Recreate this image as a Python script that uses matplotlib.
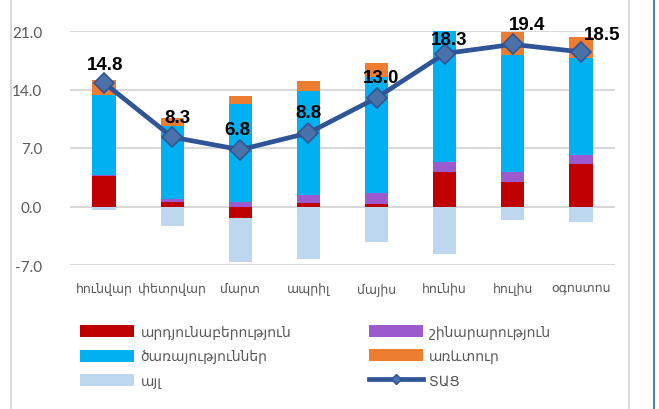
import numpy as np
import matplotlib
matplotlib.use('Agg')
import matplotlib.pyplot as plt
from matplotlib.lines import Line2D

plt.rcParams['font.family'] = ['Lato', 'DejaVu Sans']

# data
months = ['հունվար', 'փետրվար', 'մարտ', 'ապրիլ', 'մայիս', 'հունիս', 'հուլիս', 'օգոստոս']
industry = [3.6, 0.55, -1.4, 0.36, 0.3, 4.07, 2.94, 5.06]
construction = [0.2, 0.4, 0.48, 1.0, 1.3, 1.2, 1.16, 1.16]
services = [9.6, 8.7, 11.8, 12.45, 13.9, 18.0, 14.0, 11.5]
trade = [1.7, 0.9, 1.0, 1.25, 1.7, 0.7, 2.8, 2.6]
other = [-0.4, -2.3, -5.2, -6.3, -4.2, -5.7, -1.6, -1.9]
gdp = [14.8, 8.3, 6.8, 8.8, 13.0, 18.3, 19.4, 18.5]

names = ['արդյունաբերություն', 'շինարարություն', 'ծառայություններ', 'առևտուր', 'այլ']
colors = ['#C00000', '#9B5BCF', '#00B0F0', '#ED7D31', '#BDD7EE']
line_name = 'ՏԱՑ'

# label offsets in pixels (manual placement like the original)
lbl_dx = [1, 5, -3, 0, 5, 4, 14, 21]
lbl_dy = [18, 20, 20, 20, 20, 14, 20, 17]

fig = plt.figure(figsize=(6.59, 4.10), dpi=100)
ax = fig.add_axes([70/659, 144/410, 545/659, 234/410])

x = np.arange(len(months))
pos = np.zeros(len(months))
neg = np.zeros(len(months))
handles = []
for vals, name, c in zip([industry, construction, services, trade, other], names, colors):
    v = np.array(vals)
    bottom = np.where(v >= 0, pos, neg)
    b = ax.bar(x, v, width=0.34, bottom=bottom, color=c, label=name, zorder=2)
    handles.append(b)
    pos = pos + np.where(v >= 0, v, 0)
    neg = neg + np.where(v < 0, v, 0)

ln, = ax.plot(x, gdp, color='#2F5597', lw=3.4, marker='D', markersize=10.5,
              markerfacecolor='#4A72A8', markeredgecolor='#2F5597', markeredgewidth=1.2,
              label=line_name, zorder=3)

for i in range(len(gdp)):
    ax.annotate('%.1f' % gdp[i], (x[i], gdp[i]), xytext=(lbl_dx[i], lbl_dy[i]),
                textcoords='offset pixels', ha='center', va='center',
                fontsize=13.5, fontweight='bold', family='Liberation Sans', color='black',
                zorder=4)

ax.set_ylim(-7, 21)
ax.set_xlim(-0.5, 7.5)
ax.set_yticks([-7, 0, 7, 14, 21])
ax.set_yticklabels(['%.1f' % t for t in [-7, 0, 7, 14, 21]])
ax.set_xticks(x)
ax.set_xticklabels(months)
ax.tick_params(axis='y', length=0, pad=20, labelsize=11, labelcolor='#595959')
ax.tick_params(axis='x', length=0, pad=12, labelsize=9, labelcolor='#595959')
ax.grid(axis='y', color='#D9D9D9', lw=1.5, zorder=0)
ax.set_axisbelow(True)
for s in ax.spines.values():
    s.set_visible(False)

leg_line = Line2D([], [], color='#2F5597', lw=3.4, marker='D', markersize=5,
                  markerfacecolor='#4A72A8', markeredgecolor='#2F5597')
order = [handles[0], handles[2], handles[4], handles[1], handles[3], leg_line]
labels = [names[0], names[2], names[4], names[1], names[3], line_name]
fig.legend(order, labels, loc='upper left', bbox_to_anchor=(80/659, 1 - 326/410),
           ncol=2, frameon=False, fontsize=10, handlelength=3.9, handleheight=0.95,
           labelspacing=0.75, columnspacing=5.6, borderpad=0, borderaxespad=0,
           handletextpad=0.45, labelcolor='#595959')

# chart frame lines
fig.add_artist(Line2D([11/659, 11/659], [0, 1], color='#D9D9D9', lw=1.5))
fig.add_artist(Line2D([629/659, 629/659], [0, 1], color='#D9D9D9', lw=1.5))
fig.add_artist(Line2D([654/659, 654/659], [0, 1], color='#4F81BD', lw=1.5))

fig.savefig('out.png', dpi=100)
